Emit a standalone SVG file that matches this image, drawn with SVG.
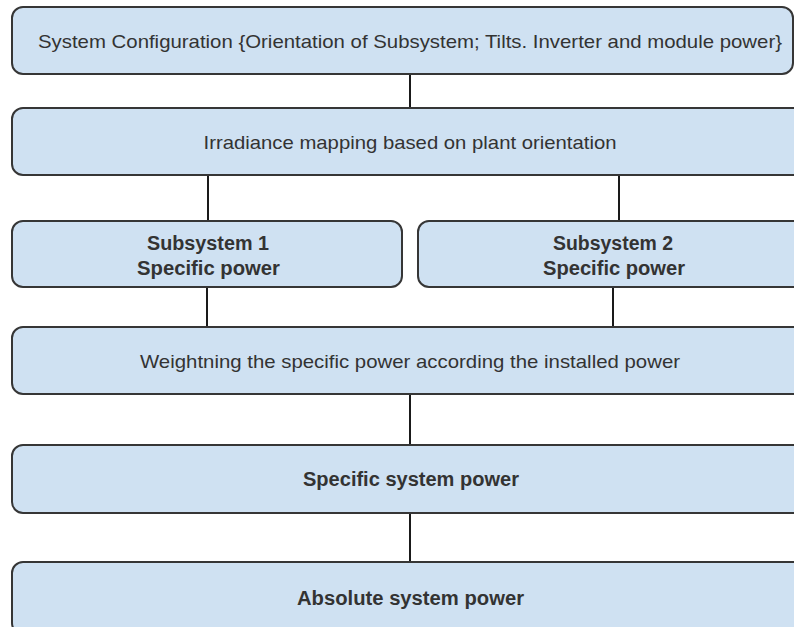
<svg xmlns="http://www.w3.org/2000/svg" width="794" height="627" viewBox="0 0 794 627">
  <style>
    .box { fill: #cfe1f2; stroke: #363636; stroke-width: 2; }
    .link { stroke: #1a1a1a; stroke-width: 2; fill: none; }
    .t { font-family: "Liberation Sans", Arial, sans-serif; fill: #333333; text-anchor: middle; dominant-baseline: central; }
    .n { font-size: 19px; }
    .b { font-size: 19.5px; font-weight: bold; }
  </style>
  <rect width="794" height="627" fill="#ffffff"/>

  <g id="connectors">
    <line class="link" x1="410" y1="74" x2="410" y2="108"/>
    <line class="link" x1="208" y1="175" x2="208" y2="221"/>
    <line class="link" x1="619" y1="175" x2="619" y2="221"/>
    <line class="link" x1="207" y1="287" x2="207" y2="327"/>
    <line class="link" x1="613" y1="287" x2="613" y2="327"/>
    <line class="link" x1="410" y1="394" x2="410" y2="445"/>
    <line class="link" x1="410" y1="513" x2="410" y2="562"/>
  </g>

  <g id="system-configuration">
    <rect class="box" x="12" y="7" width="781" height="67" rx="11"/>
    <text class="t n" x="410" y="41" textLength="744" lengthAdjust="spacingAndGlyphs">System Configuration {Orientation of Subsystem; Tilts. Inverter and module power}</text>
  </g>

  <g id="irradiance-mapping">
    <rect class="box" x="12" y="108" width="800" height="67" rx="11"/>
    <text class="t n" x="410" y="142" textLength="413" lengthAdjust="spacingAndGlyphs">Irradiance mapping based on plant orientation</text>
  </g>

  <g id="subsystem-1">
    <rect class="box" x="12" y="221" width="390" height="66" rx="11"/>
    <text class="t b" x="208" y="243" textLength="122" lengthAdjust="spacingAndGlyphs">Subsystem 1</text>
    <text class="t b" x="208.5" y="268" textLength="143" lengthAdjust="spacingAndGlyphs">Specific power</text>
  </g>

  <g id="subsystem-2">
    <rect class="box" x="418" y="221" width="400" height="66" rx="11"/>
    <text class="t b" x="613" y="243" textLength="120" lengthAdjust="spacingAndGlyphs">Subsystem 2</text>
    <text class="t b" x="614" y="268" textLength="142" lengthAdjust="spacingAndGlyphs">Specific power</text>
  </g>

  <g id="weighting">
    <rect class="box" x="12" y="327" width="810" height="67" rx="11"/>
    <text class="t n" x="410" y="361" textLength="540" lengthAdjust="spacingAndGlyphs">Weightning the specific power according the installed power</text>
  </g>

  <g id="specific-system-power">
    <rect class="box" x="12" y="445" width="810" height="68" rx="11"/>
    <text class="t b" x="411" y="479" textLength="216" lengthAdjust="spacingAndGlyphs">Specific system power</text>
  </g>

  <g id="absolute-system-power">
    <rect class="box" x="12" y="562" width="810" height="72" rx="11"/>
    <text class="t b" x="410.5" y="598" textLength="227" lengthAdjust="spacingAndGlyphs">Absolute system power</text>
  </g>
</svg>
